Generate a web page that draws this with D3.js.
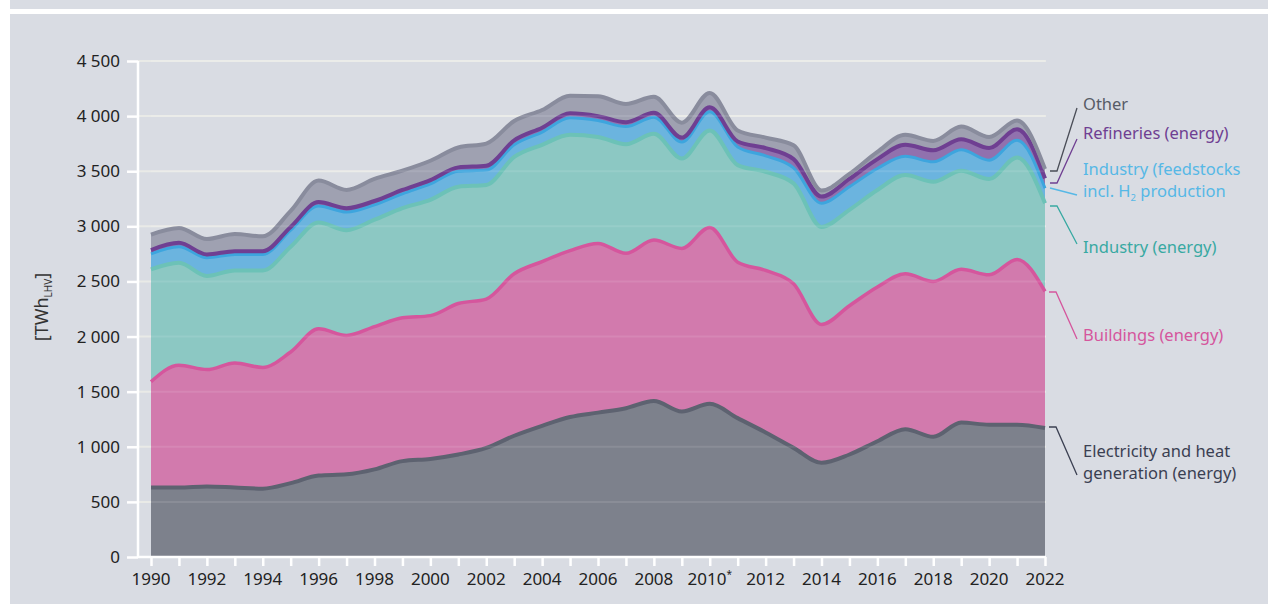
<!DOCTYPE html>
<html lang="en">
<head>
<meta charset="UTF-8">
<title>Final energy use by sector</title>
<script src="https://d3js.org/d3.v7.min.js"></script>
<style>
  html, body { margin: 0; padding: 0; background: #ffffff; }
  svg { display: block; font-family: "Noto Sans", sans-serif; }
</style>
</head>
<body>
<script>
// values, TWh (LHV), per year 1990-2022
const years = d3.range(1990, 2023);
const electricity = [630,630,640,630,620,670,740,750,795,870,890,930,990,1100,1190,1270,1310,1350,1415,1320,1390,1260,1130,990,855,930,1050,1160,1090,1220,1200,1200,1170];
const buildings   = [960,1110,1060,1130,1100,1190,1330,1260,1295,1300,1300,1370,1350,1470,1490,1510,1535,1405,1460,1480,1600,1415,1470,1490,1255,1350,1400,1410,1410,1390,1360,1500,1240];
const industry    = [1020,930,850,840,880,955,965,955,970,995,1050,1060,1035,1060,1060,1050,965,990,965,815,880,880,895,910,885,870,880,895,905,895,870,925,800];
const feedstocks  = [140,145,165,145,145,150,150,165,135,130,145,140,135,110,115,155,150,160,150,150,170,165,145,140,215,210,195,170,180,190,170,155,135];
const refineries  = [35,35,30,30,30,30,35,35,35,35,35,35,40,40,40,40,40,40,40,40,40,50,70,80,60,70,85,105,105,95,110,100,90];
const other       = [140,135,140,155,135,145,195,165,200,175,175,180,200,175,160,160,180,165,145,135,130,100,95,125,55,45,65,90,85,115,100,80,85];

const yTicks = [0,500,1000,1500,2000,2500,3000,3500,4000,4500];
const xLabelYears = d3.range(1990, 2023, 2);

const series = [
  { key: "electricity", values: electricity, fill: "#7d818c", line: "#5d6270", lw: 4 },
  { key: "buildings",   values: buildings,   fill: "#d27aad", line: "#d5569d", lw: 3.5 },
  { key: "industry",    values: industry,    fill: "#8cc8c3", line: "#6cc2b7", lw: 4 },
  { key: "feedstocks",  values: feedstocks,  fill: "#6bb4df", line: "#3da5de", lw: 3 },
  { key: "refineries",  values: refineries,  fill: "#9171ae", line: "#6f3f92", lw: 4 },
  { key: "other",       values: other,       fill: "#9fa1b1", line: "#898c9d", lw: 4 }
];

const rows = years.map((yr, i) => {
  const r = { year: yr };
  series.forEach(s => { r[s.key] = s.values[i]; });
  return r;
});

const W = 1268, H = 604;
const svg = d3.select("body").append("svg").attr("width", W).attr("height", H);

// page background, white frame strips
svg.append("rect").attr("width", W).attr("height", H).attr("fill", "#d9dce3");
svg.append("rect").attr("x", 0).attr("y", 0).attr("width", 10).attr("height", H).attr("fill", "#ffffff");
svg.append("rect").attr("x", 10).attr("y", 9).attr("width", W - 10).attr("height", 5).attr("fill", "#ffffff");

const x = d3.scaleLinear().domain([1990, 2022]).range([151, 1045]);
const y = d3.scaleLinear().domain([0, 4500]).range([557, 61]);

// gridlines
svg.append("g").selectAll("line").data(yTicks.filter(d => d > 0)).join("line")
  .attr("x1", 138).attr("x2", 1046)
  .attr("y1", d => y(d)).attr("y2", d => y(d))
  .attr("stroke", "#e9eae7").attr("stroke-width", 2);

const stacked = d3.stack().keys(series.map(s => s.key))(rows);
const curve = d3.curveMonotoneX;

const area = d3.area().curve(curve)
  .x(d => x(d.data.year)).y0(d => y(d[0])).y1(d => y(d[1]));
const topLine = d3.line().curve(curve)
  .x(d => x(d.data.year)).y(d => y(d[1]));

const layers = svg.append("g");
stacked.forEach((layer, i) => {
  layers.append("path").attr("d", area(layer)).attr("fill", series[i].fill);
});
stacked.forEach((layer, i) => {
  layers.append("path").attr("d", topLine(layer))
    .attr("fill", "none").attr("stroke", series[i].line)
    .attr("stroke-width", series[i].lw).attr("stroke-linejoin", "round");
});

// faint grid showing through the areas
svg.append("g").selectAll("line").data(yTicks.filter(d => d > 0)).join("line")
  .attr("x1", 151).attr("x2", 1045)
  .attr("y1", d => y(d)).attr("y2", d => y(d))
  .attr("stroke", "#ffffff").attr("stroke-opacity", 0.1).attr("stroke-width", 2);

// y axis
const yAxis = svg.append("g").attr("transform", "translate(138,0)")
  .call(d3.axisLeft(y).tickValues(yTicks).tickSize(11).tickPadding(7));
yAxis.select(".domain").attr("stroke", "#ffffff").attr("stroke-width", 2.5)
  .attr("d", `M0,${y(4500)}V${y(0)}`);
yAxis.selectAll(".tick line").attr("stroke", "#ffffff").attr("stroke-width", 2.5);
yAxis.selectAll(".tick text").attr("fill", "#222222").attr("font-size", 17)
  .attr("font-family", "Noto Sans, sans-serif")
  .text(d => d >= 1000 ? d3.format(",")(d).replace(",", " ") : d);

// x axis
const xAxis = svg.append("g").attr("transform", "translate(0,557)")
  .call(d3.axisBottom(x).tickValues(years).tickSize(9).tickPadding(6).tickFormat(""));
xAxis.select(".domain").attr("stroke", "#ffffff").attr("stroke-width", 2.5)
  .attr("d", "M138,0H1046");
xAxis.selectAll(".tick line").attr("stroke", "#ffffff").attr("stroke-width", 2.5);

const xl = svg.append("g").selectAll("text").data(xLabelYears).join("text")
  .attr("x", d => x(d)).attr("y", 585)
  .attr("text-anchor", "middle").attr("font-size", 17).attr("fill", "#222222")
  .text(d => d);
xl.filter(d => d === 2010).append("tspan")
  .attr("font-size", 10).attr("dy", -7).text("*");

// y axis title
const yt = svg.append("text").attr("transform", "translate(48,307) rotate(-90)")
  .attr("text-anchor", "middle").attr("font-size", 18).attr("fill", "#333333");
yt.append("tspan").text("[TWh");
yt.append("tspan").attr("font-size", 10).attr("dy", 4).text("LHV");
yt.append("tspan").attr("dy", -4).text("]");

// legend labels with leader lines
const labels = [
  { lines: ["Other"], color: "#575b66", lead: "#4a4d57", pts: [[1050,171],[1057,171],[1077,108]], ty: 110 },
  { lines: ["Refineries (energy)"], color: "#6f3f92", lead: "#6f3f92", pts: [[1050,183],[1057,183],[1077,139]], ty: 139 },
  { lines: ["Industry (feedstocks", "incl. H|2| production"], color: "#56b8e6", lead: "#56b8e6", pts: [[1050,188],[1077,195]], ty: 174.5 },
  { lines: ["Industry (energy)"], color: "#38a9a2", lead: "#38a9a2", pts: [[1050,206],[1057,206],[1077,244]], ty: 253 },
  { lines: ["Buildings (energy)"], color: "#d5569d", lead: "#d5569d", pts: [[1049,292],[1056,292],[1077,339]], ty: 341 },
  { lines: ["Electricity and heat", "generation (energy)"], color: "#3b4052", lead: "#3b4052", pts: [[1049,427],[1056,427],[1077,475]], ty: 456.5 }
];
const lg = svg.append("g");
labels.forEach(l => {
  lg.append("path").attr("d", d3.line()(l.pts))
    .attr("fill", "none").attr("stroke", l.lead).attr("stroke-width", 1.3);
  l.lines.forEach((t, k) => {
    const tx = lg.append("text").attr("x", 1083).attr("y", l.ty + k * 22.6)
      .attr("font-size", 16.5).attr("fill", l.color);
    const parts = t.split("|");
    tx.append("tspan").text(parts[0]);
    if (parts.length > 1) {
      tx.append("tspan").attr("font-size", 9.5).attr("dy", 4).text(parts[1]);
      tx.append("tspan").attr("dy", -4).text(parts[2]);
    }
  });
});
</script>
</body>
</html>
